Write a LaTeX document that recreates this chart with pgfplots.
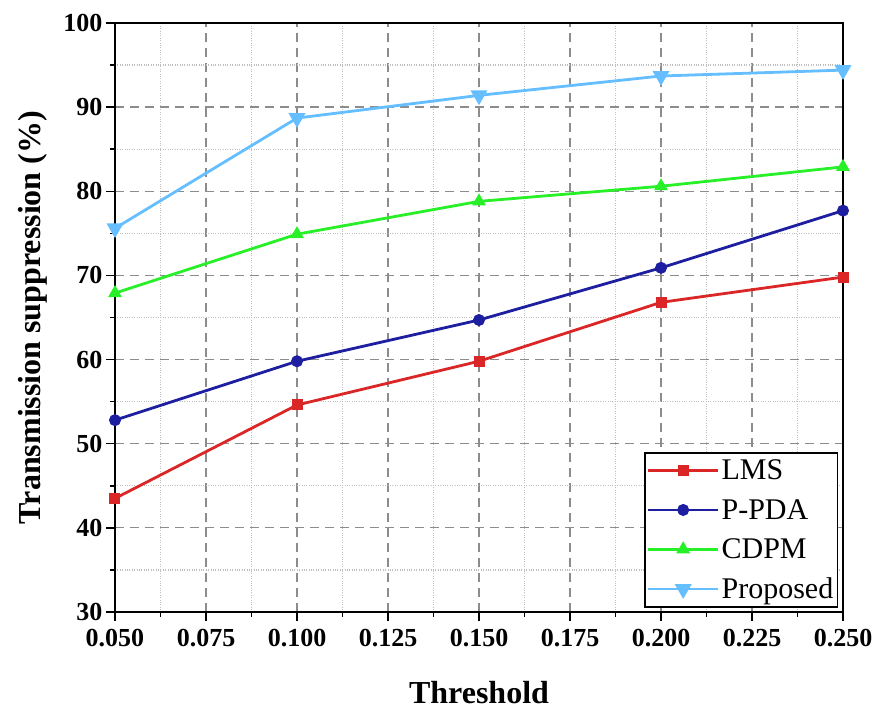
\documentclass[border=0pt]{standalone}
\usepackage{fontspec}
\setmainfont{Liberation Serif}
\usepackage{pgfplots}
\pgfplotsset{compat=1.18}
\definecolor{clms}{RGB}{218,38,38}
\definecolor{cppda}{RGB}{30,30,160}
\definecolor{ccdpm}{RGB}{40,240,40}
\definecolor{cprop}{RGB}{100,190,255}
\begin{document}
\begin{tikzpicture}
\begin{axis}[
  name=ax,
  scale only axis,
  width=728bp, height=589bp,
  xmin=0.05, xmax=0.25, ymin=30, ymax=100,
  xtick={0.05,0.075,...,0.251},
  ytick={30,40,...,100},
  minor x tick num=1, minor y tick num=1,
  xtick pos=bottom, ytick pos=left,
  tick align=outside,
  major tick length=9bp, minor tick length=5bp,
  every tick/.style={black, line width=1.5bp},
  axis line style={black, line width=2bp},
  grid=both,
  major grid style={gray!90, dash pattern=on 9bp off 6bp, line width=1.3bp},
  minor grid style={gray!50, dotted, line width=1.2bp},
  /pgf/number format/assume math mode=true,
  xticklabel style={yshift=-5bp, /pgf/number format/.cd, fixed, fixed zerofill, precision=3},
  ticklabel style={font=\fontsize{26bp}{30bp}\selectfont\bfseries},
  xlabel={Threshold},
  ylabel={Transmission suppression (\%)},
  label style={font=\fontsize{32bp}{36bp}\selectfont\bfseries},
  xlabel style={at={(axis description cs:0.5,-0.1375)}, anchor=center},
  ylabel style={at={(axis description cs:-0.1126,0.5)}, anchor=center},
  legend style={at={(1,0)}, anchor=south east, xshift=-5bp, yshift=4bp,
    draw=black, line width=1.5bp, font=\fontsize{30bp}{32bp}\selectfont,
    row sep=14bp, inner xsep=2bp, inner ysep=5bp},
  legend cell align=left,
  legend image code/.code={\draw[#1, line width=2.8bp] (0bp,0bp) -- (70bp,0bp); \draw[#1, mark repeat=1] plot coordinates {(35bp,0bp)};},
  every axis plot/.append style={line width=2.8bp, mark size=5.5bp, mark options={solid, line width=1bp}},
]
\addplot[clms, mark=square*, mark size=5bp] coordinates {(0.05,43.5) (0.10,54.6) (0.15,59.8) (0.20,66.8) (0.25,69.8)};
\addlegendentry{LMS}
\addplot[cppda, mark=*] coordinates {(0.05,52.8) (0.10,59.8) (0.15,64.7) (0.20,70.9) (0.25,77.7)};
\addlegendentry{P-PDA}
\addplot[ccdpm, mark=triangle*, mark size=7bp] coordinates {(0.05,67.9) (0.10,74.9) (0.15,78.8) (0.20,80.6) (0.25,82.9)};
\addlegendentry{CDPM}
\addplot[cprop, mark=triangle*, mark size=7bp, mark options={rotate=180}] coordinates {(0.05,75.6) (0.10,88.7) (0.15,91.4) (0.20,93.7) (0.25,94.4)};
\addlegendentry{Proposed}
\end{axis}
\pgfresetboundingbox
\path ([shift={(-115bp,-99bp)}]ax.south west) rectangle ([shift={(32bp,23bp)}]ax.north east);
\end{tikzpicture}
\end{document}
